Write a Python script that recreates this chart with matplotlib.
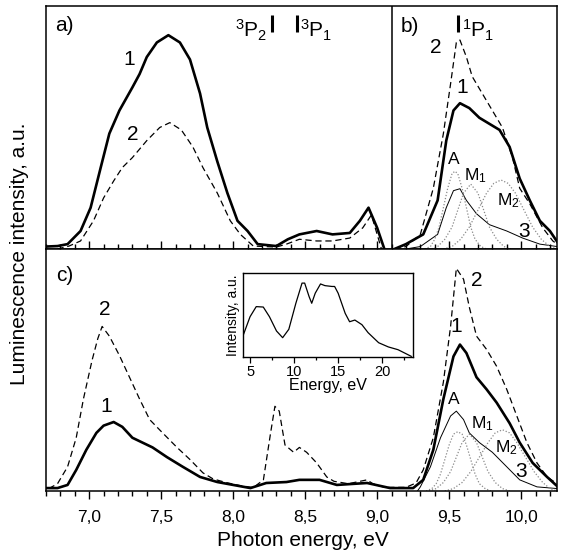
import numpy as np
import matplotlib
matplotlib.use("Agg")
import matplotlib.pyplot as plt
from matplotlib.ticker import MultipleLocator, FixedLocator, FixedFormatter

plt.rcParams['font.family'] = ['Liberation Sans', 'DejaVu Sans']
plt.rcParams['mathtext.fontset'] = 'custom'
plt.rcParams['mathtext.rm'] = 'Liberation Sans'
plt.rcParams['mathtext.default'] = 'regular'

# panel a) - 3P region, curve 1 (thick) and curve 2 (dashed)
a1_x = [6.70, 6.78, 6.85, 6.94, 7.01, 7.08, 7.14, 7.21, 7.30, 7.35, 7.40, 7.47, 7.55,
        7.63, 7.70, 7.77, 7.82, 7.89, 7.96, 8.03, 8.10, 8.17, 8.30, 8.38, 8.46, 8.58,
        8.69, 8.81, 8.88, 8.94, 9.00, 9.05]
a1_y = [0.01, 0.012, 0.02, 0.074, 0.17, 0.335, 0.475, 0.57, 0.665, 0.72, 0.79, 0.85, 0.88,
        0.85, 0.78, 0.64, 0.50, 0.36, 0.23, 0.116, 0.074, 0.02, 0.012, 0.04, 0.06, 0.074,
        0.06, 0.066, 0.116, 0.17, 0.087, 0.0]
a2_x = [6.78, 6.86, 6.94, 7.03, 7.10, 7.17, 7.23, 7.30, 7.40, 7.49, 7.56, 7.64, 7.72,
        7.79, 7.89, 7.98, 8.05, 8.14, 8.30, 8.37, 8.46, 8.58, 8.69, 8.81, 8.90, 8.96, 9.03]
a2_y = [0.0, 0.012, 0.033, 0.116, 0.21, 0.28, 0.335, 0.376, 0.446, 0.50, 0.52, 0.49, 0.42,
        0.335, 0.23, 0.116, 0.06, 0.012, 0.008, 0.02, 0.04, 0.033, 0.033, 0.045, 0.087, 0.14, 0.0]

# panel b) - 1P region
b1_x = [9.12, 9.20, 9.32, 9.42, 9.48, 9.53, 9.575, 9.64, 9.71, 9.78, 9.85, 9.92, 9.99,
        10.06, 10.13, 10.20, 10.25]
b1_y = [0.0, 0.02, 0.06, 0.20, 0.446, 0.57, 0.60, 0.58, 0.54, 0.515, 0.49, 0.42, 0.29,
        0.20, 0.116, 0.074, 0.03]
b2_x = [9.12, 9.20, 9.30, 9.39, 9.46, 9.51, 9.55, 9.575, 9.62, 9.66, 9.73, 9.80, 9.87,
        9.94, 9.99, 10.06, 10.15, 10.22, 10.25]
b2_y = [0.0, 0.01, 0.06, 0.25, 0.475, 0.68, 0.85, 0.86, 0.79, 0.71, 0.64, 0.57, 0.50,
        0.376, 0.25, 0.186, 0.087, 0.033, 0.02]
b3_x = [9.20, 9.30, 9.42, 9.48, 9.53, 9.575, 9.62, 9.69, 9.78, 9.90, 10.01, 10.13, 10.25]
b3_y = [0.0, 0.01, 0.06, 0.17, 0.24, 0.248, 0.20, 0.145, 0.10, 0.074, 0.045, 0.02, 0.01]
bA_x = [9.33, 9.37, 9.40, 9.43, 9.46, 9.49, 9.52, 9.54, 9.56, 9.59, 9.62, 9.65, 9.68, 9.72, 9.76]
bA_y = [0.0, 0.01, 0.04, 0.09, 0.17, 0.25, 0.31, 0.32, 0.31, 0.25, 0.17, 0.09, 0.04, 0.01, 0.0]
bM1_x = [9.38, 9.42, 9.47, 9.52, 9.56, 9.60, 9.65, 9.70, 9.74, 9.78, 9.83, 9.88, 9.93]
bM1_y = [0.0, 0.01, 0.04, 0.09, 0.16, 0.23, 0.267, 0.23, 0.16, 0.09, 0.04, 0.01, 0.0]
bM2_x = [9.46, 9.52, 9.58, 9.64, 9.70, 9.76, 9.81, 9.86, 9.91, 9.96, 10.02, 10.08, 10.14, 10.20, 10.25]
bM2_y = [0.0, 0.01, 0.04, 0.09, 0.16, 0.23, 0.27, 0.284, 0.27, 0.23, 0.16, 0.09, 0.04, 0.01, 0.0]

# panel c) - full range
c1_x = [6.70, 6.78, 6.85, 6.91, 6.98, 7.05, 7.10, 7.17, 7.23, 7.30, 7.37, 7.44, 7.54,
        7.65, 7.77, 7.89, 8.00, 8.12, 8.23, 8.37, 8.46, 8.60, 8.72, 8.85, 8.93, 9.09,
        9.25, 9.32, 9.39, 9.46, 9.53, 9.575, 9.62, 9.69, 9.76, 9.83, 9.92, 9.99, 10.08,
        10.18, 10.25]
c1_y = [0.012, 0.012, 0.025, 0.087, 0.17, 0.24, 0.27, 0.285, 0.265, 0.22, 0.20, 0.18, 0.14,
        0.10, 0.058, 0.037, 0.025, 0.012, 0.033, 0.037, 0.046, 0.046, 0.025, 0.03, 0.033, 0.012,
        0.012, 0.046, 0.17, 0.38, 0.556, 0.605, 0.57, 0.47, 0.42, 0.365, 0.28, 0.20, 0.116,
        0.058, 0.02]
c2_x = [6.72, 6.78, 6.85, 6.91, 6.96, 7.02, 7.06, 7.09, 7.14, 7.21, 7.28, 7.35, 7.42,
        7.51, 7.61, 7.70, 7.79, 7.86, 7.95, 8.05, 8.14, 8.21, 8.26, 8.29, 8.32, 8.36,
        8.42, 8.46, 8.51, 8.58, 8.65, 8.70, 8.80, 8.93, 8.97, 9.05, 9.20, 9.27, 9.32,
        9.39, 9.46, 9.51, 9.55, 9.60, 9.64, 9.69, 9.76, 9.83, 9.90, 9.97, 10.04, 10.11,
        10.18, 10.25]
c2_y = [0.01, 0.03, 0.10, 0.22, 0.38, 0.54, 0.63, 0.68, 0.64, 0.56, 0.47, 0.38, 0.295,
        0.24, 0.18, 0.13, 0.075, 0.05, 0.035, 0.022, 0.014, 0.046, 0.24, 0.35, 0.33, 0.19,
        0.16, 0.18, 0.16, 0.116, 0.058, 0.04, 0.03, 0.046, 0.03, 0.015, 0.015, 0.033, 0.087,
        0.22, 0.45, 0.68, 0.92, 0.875, 0.76, 0.64, 0.585, 0.515, 0.42, 0.31, 0.20, 0.116,
        0.058, 0.03]
c3_x = [9.28, 9.30, 9.37, 9.44, 9.51, 9.55, 9.60, 9.64, 9.71, 9.80, 9.90, 9.99, 10.11, 10.25]
c3_y = [0.0, 0.017, 0.10, 0.22, 0.31, 0.33, 0.295, 0.24, 0.20, 0.16, 0.10, 0.046, 0.017, 0.01]
cA_x = [9.34, 9.38, 9.41, 9.44, 9.47, 9.50, 9.53, 9.56, 9.59, 9.62, 9.65, 9.68, 9.71, 9.75, 9.79]
cA_y = [0.0, 0.01, 0.03, 0.07, 0.13, 0.19, 0.235, 0.245, 0.235, 0.19, 0.13, 0.07, 0.03, 0.01, 0.0]
cM1_x = [9.36, 9.41, 9.46, 9.51, 9.55, 9.59, 9.64, 9.69, 9.73, 9.77, 9.82, 9.87, 9.92]
cM1_y = [0.0, 0.01, 0.035, 0.08, 0.14, 0.20, 0.235, 0.20, 0.14, 0.08, 0.035, 0.01, 0.0]
cM2_x = [9.47, 9.53, 9.59, 9.65, 9.71, 9.77, 9.82, 9.87, 9.92, 9.97, 10.03, 10.09, 10.15, 10.20, 10.25]
cM2_y = [0.0, 0.01, 0.035, 0.08, 0.14, 0.20, 0.24, 0.253, 0.24, 0.20, 0.14, 0.08, 0.035, 0.01, 0.0]

# inset - excitation spectrum
ins_x = [4.26, 5.0, 5.7, 6.5, 7.2, 8.0, 8.7, 9.4, 10.2, 10.9, 11.2, 11.7, 12.0, 12.4,
         13.0, 13.5, 14.3, 14.6, 15.0, 15.8, 16.3, 16.9, 17.7, 18.4, 19.6, 20.7, 21.8, 23.3]
ins_y = [0.27, 0.48, 0.60, 0.595, 0.48, 0.31, 0.23, 0.33, 0.64, 0.88, 0.88, 0.72, 0.64, 0.76,
         0.87, 0.85, 0.84, 0.84, 0.76, 0.52, 0.42, 0.44, 0.385, 0.29, 0.17, 0.12, 0.087, 0.008]

# Xe resonance lines, eV
lines_e = [8.27, 8.44, 9.56]
lines_lbl = ['$^3$P$_2$', '$^3$P$_1$', '$^1$P$_1$']

x_ticks = [7.0, 7.5, 8.0, 8.5, 9.0, 9.5, 10.0]
x_tick_labels = ['7,0', '7,5', '8,0', '8,5', '9,0', '9,5', '10,0']
ins_ticks = [5, 10, 15, 20]

fig = plt.figure(figsize=(5.67, 5.58), dpi=100)
ax_top = fig.add_axes([0.0811, 0.5538, 0.9015, 0.4354])
ax_bot = fig.add_axes([0.0811, 0.1201, 0.9015, 0.4337])

thick = dict(color='black', lw=1.9)
dash = dict(color='black', lw=0.9, linestyle=(0, (5, 3)))
thin = dict(color='black', lw=0.7)
dot = dict(color='#8a8a8a', lw=0.9, linestyle=(0, (1, 1.5)))

ax_top.plot(a1_x, a1_y, **thick)
ax_top.plot(a2_x, a2_y, **dash)
ax_top.plot(b1_x, b1_y, **thick)
ax_top.plot(b2_x, b2_y, **dash)
ax_top.plot(b3_x, b3_y, **thin)
ax_top.plot(bA_x, bA_y, **dot)
ax_top.plot(bM1_x, bM1_y, **dot)
ax_top.plot(bM2_x, bM2_y, **dot)
ax_top.axvline(9.10, color='black', lw=1.1)

ax_bot.plot(c1_x, c1_y, **thick)
ax_bot.plot(c2_x, c2_y, **dash)
ax_bot.plot(c3_x, c3_y, **thin)
ax_bot.plot(cA_x, cA_y, **dot)
ax_bot.plot(cM1_x, cM1_y, **dot)
ax_bot.plot(cM2_x, cM2_y, **dot)

for ax in (ax_top, ax_bot):
    ax.set_xlim(6.7, 10.25)
    ax.set_ylim(0, 1)
    ax.set_yticks([])
    for s in ax.spines.values():
        s.set_linewidth(1.1)

ax_top.set_xticks([])
ax_bot.xaxis.set_major_locator(FixedLocator(x_ticks))
ax_bot.xaxis.set_major_formatter(FixedFormatter(x_tick_labels))
ax_bot.xaxis.set_minor_locator(MultipleLocator(0.1))
ax_bot.tick_params(axis='x', which='both', top=True, direction='out', width=1.0, labelsize=12.5, pad=8)
ax_bot.tick_params(axis='x', which='major', length=6)
ax_bot.tick_params(axis='x', which='minor', length=3.5)

# resonance line markers
for e, lbl in zip(lines_e, lines_lbl):
    ax_top.plot([e, e], [0.893, 0.963], color='black', lw=2.2, solid_capstyle='butt')
ax_top.text(lines_e[0] - 0.03, 0.872, lines_lbl[0], fontsize=15, ha='right', va='baseline')
ax_top.text(lines_e[1] + 0.025, 0.872, lines_lbl[1], fontsize=15, ha='left', va='baseline')
ax_top.text(lines_e[2] + 0.03, 0.872, lines_lbl[2], fontsize=15, ha='left', va='baseline')

# panel letters and curve numbers
fs = 15
ax_top.text(6.83, 0.92, 'a)', fontsize=fs, ha='center', va='center')
ax_top.text(9.23, 0.917, 'b)', fontsize=fs, ha='center', va='center')
ax_bot.text(6.83, 0.89, 'c)', fontsize=fs, ha='center', va='center')

ax_top.text(7.28, 0.78, '1', fontsize=fs, ha='center', va='center')
ax_top.text(7.30, 0.47, '2', fontsize=fs, ha='center', va='center')
ax_top.text(9.41, 0.83, '2', fontsize=fs, ha='center', va='center')
ax_top.text(9.59, 0.665, '1', fontsize=fs, ha='center', va='center')
ax_top.text(9.53, 0.37, 'A', fontsize=12.5, ha='center', va='center')
ax_top.text(9.68, 0.30, 'M$_1$', fontsize=12.5, ha='center', va='center')
ax_top.text(9.91, 0.20, 'M$_2$', fontsize=12.5, ha='center', va='center')
ax_top.text(10.02, 0.07, '3', fontsize=fs, ha='center', va='center')

ax_bot.text(7.11, 0.75, '2', fontsize=fs, ha='center', va='center')
ax_bot.text(7.12, 0.35, '1', fontsize=fs, ha='center', va='center')
ax_bot.text(9.69, 0.87, '2', fontsize=fs, ha='center', va='center')
ax_bot.text(9.55, 0.68, '1', fontsize=fs, ha='center', va='center')
ax_bot.text(9.53, 0.38, 'A', fontsize=12.5, ha='center', va='center')
ax_bot.text(9.73, 0.28, 'M$_1$', fontsize=12.5, ha='center', va='center')
ax_bot.text(9.90, 0.18, 'M$_2$', fontsize=12.5, ha='center', va='center')
ax_bot.text(10.0, 0.08, '3', fontsize=fs, ha='center', va='center')

fig.text(0.035, 0.545, 'Luminescence intensity, a.u.', fontsize=15, rotation=90, ha='center', va='center')
fig.text(0.534, 0.032, 'Photon energy, eV', fontsize=15, ha='center', va='center')

# inset
ax_in = fig.add_axes([0.4286, 0.3602, 0.2998, 0.1505])
ax_in.plot(ins_x, ins_y, color='black', lw=0.9)
ax_in.set_xlim(4.2, 23.5)
ax_in.set_ylim(0, 1)
ax_in.set_yticks([])
ax_in.set_xticks(ins_ticks)
ax_in.xaxis.set_minor_locator(MultipleLocator(2.5))
ax_in.tick_params(axis='x', which='both', direction='out', width=0.9, labelsize=10.5, pad=2)
ax_in.tick_params(axis='x', which='major', length=4)
ax_in.tick_params(axis='x', which='minor', length=2.5)
ax_in.set_xlabel('Energy, eV', fontsize=11.5, labelpad=-1)
ax_in.set_ylabel('Intensity, a.u.', fontsize=10, labelpad=2)
for s in ax_in.spines.values():
    s.set_linewidth(1.0)

fig.savefig('out.png', dpi=100)
